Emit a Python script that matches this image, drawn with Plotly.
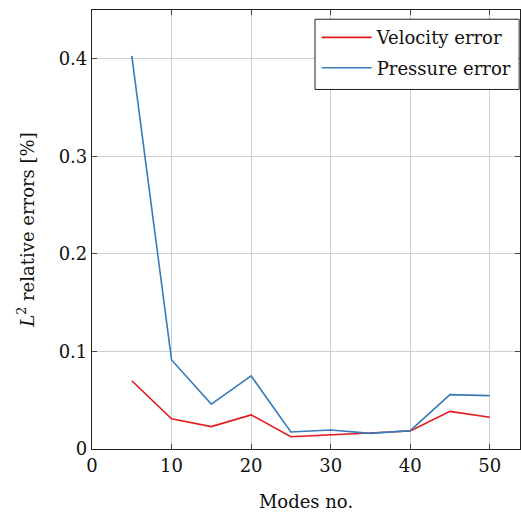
import plotly.graph_objects as go

modes = [5, 10, 15, 20, 25, 30, 35, 40, 45, 50]
velocity_error = [0.070, 0.031, 0.023, 0.035, 0.0126, 0.0144, 0.016, 0.0185, 0.0386, 0.0325]
pressure_error = [0.403, 0.0913, 0.046, 0.0749, 0.0174, 0.0195, 0.016, 0.0188, 0.0557, 0.0547]
x_ticks = [0, 10, 20, 30, 40, 50]
y_ticks = [0, 0.1, 0.2, 0.3, 0.4]
y_tick_labels = ["0", "0.1", "0.2", "0.3", "0.4"]

font_family = "DejaVu Serif, Liberation Serif, serif"
fs = 18

fig = go.Figure()
fig.add_trace(go.Scatter(x=modes, y=velocity_error, mode="lines", name="Velocity error",
                         legendgroup="v", line=dict(color="#e3191c", width=1.6)))
fig.add_trace(go.Scatter(x=modes, y=pressure_error, mode="lines", name="Pressure error",
                         legendgroup="p", line=dict(color="#3a7cb8", width=1.6)))

axis_common = dict(showline=True, linecolor="#222", linewidth=1.2, mirror="ticks",
                   ticks="inside", ticklen=5, tickcolor="#444", showgrid=True,
                   gridcolor="#cfcfcf", gridwidth=1, zeroline=False,
                   tickfont=dict(family=font_family, size=fs, color="#111"))

# legend frame (drawn as a box so it can span like the reference)
fig.add_shape(type="rect", xref="paper", yref="paper",
              x0=0.521, x1=0.998, y0=0.819, y1=0.979,
              line=dict(color="#222", width=1), fillcolor="white", layer="above")

fig.update_layout(
    width=521, height=512,
    margin=dict(l=92, r=1, t=10, b=63),
    paper_bgcolor="white", plot_bgcolor="white",
    font=dict(family=font_family, size=fs, color="#111"),
    xaxis=dict(range=[0, 53.8], tickvals=x_ticks,
               title=dict(text="Modes no.", font=dict(family=font_family, size=fs), standoff=24),
               **axis_common),
    yaxis=dict(range=[0, 0.45], tickvals=y_ticks, ticktext=y_tick_labels,
               title=dict(text="<i>L</i><sup>2</sup> relative errors [%]",
                          font=dict(family=font_family, size=fs), standoff=19),
               **axis_common),
    legend=dict(x=0.525, y=0.979, xanchor="left", yanchor="top",
                borderwidth=0, bgcolor="rgba(0,0,0,0)",
                font=dict(family=font_family, size=fs), tracegroupgap=4,
                itemwidth=50),
    showlegend=True,
)

fig.write_html("out.html", config={"displayModeBar": False},
               post_script="document.body.style.margin='0px';")
